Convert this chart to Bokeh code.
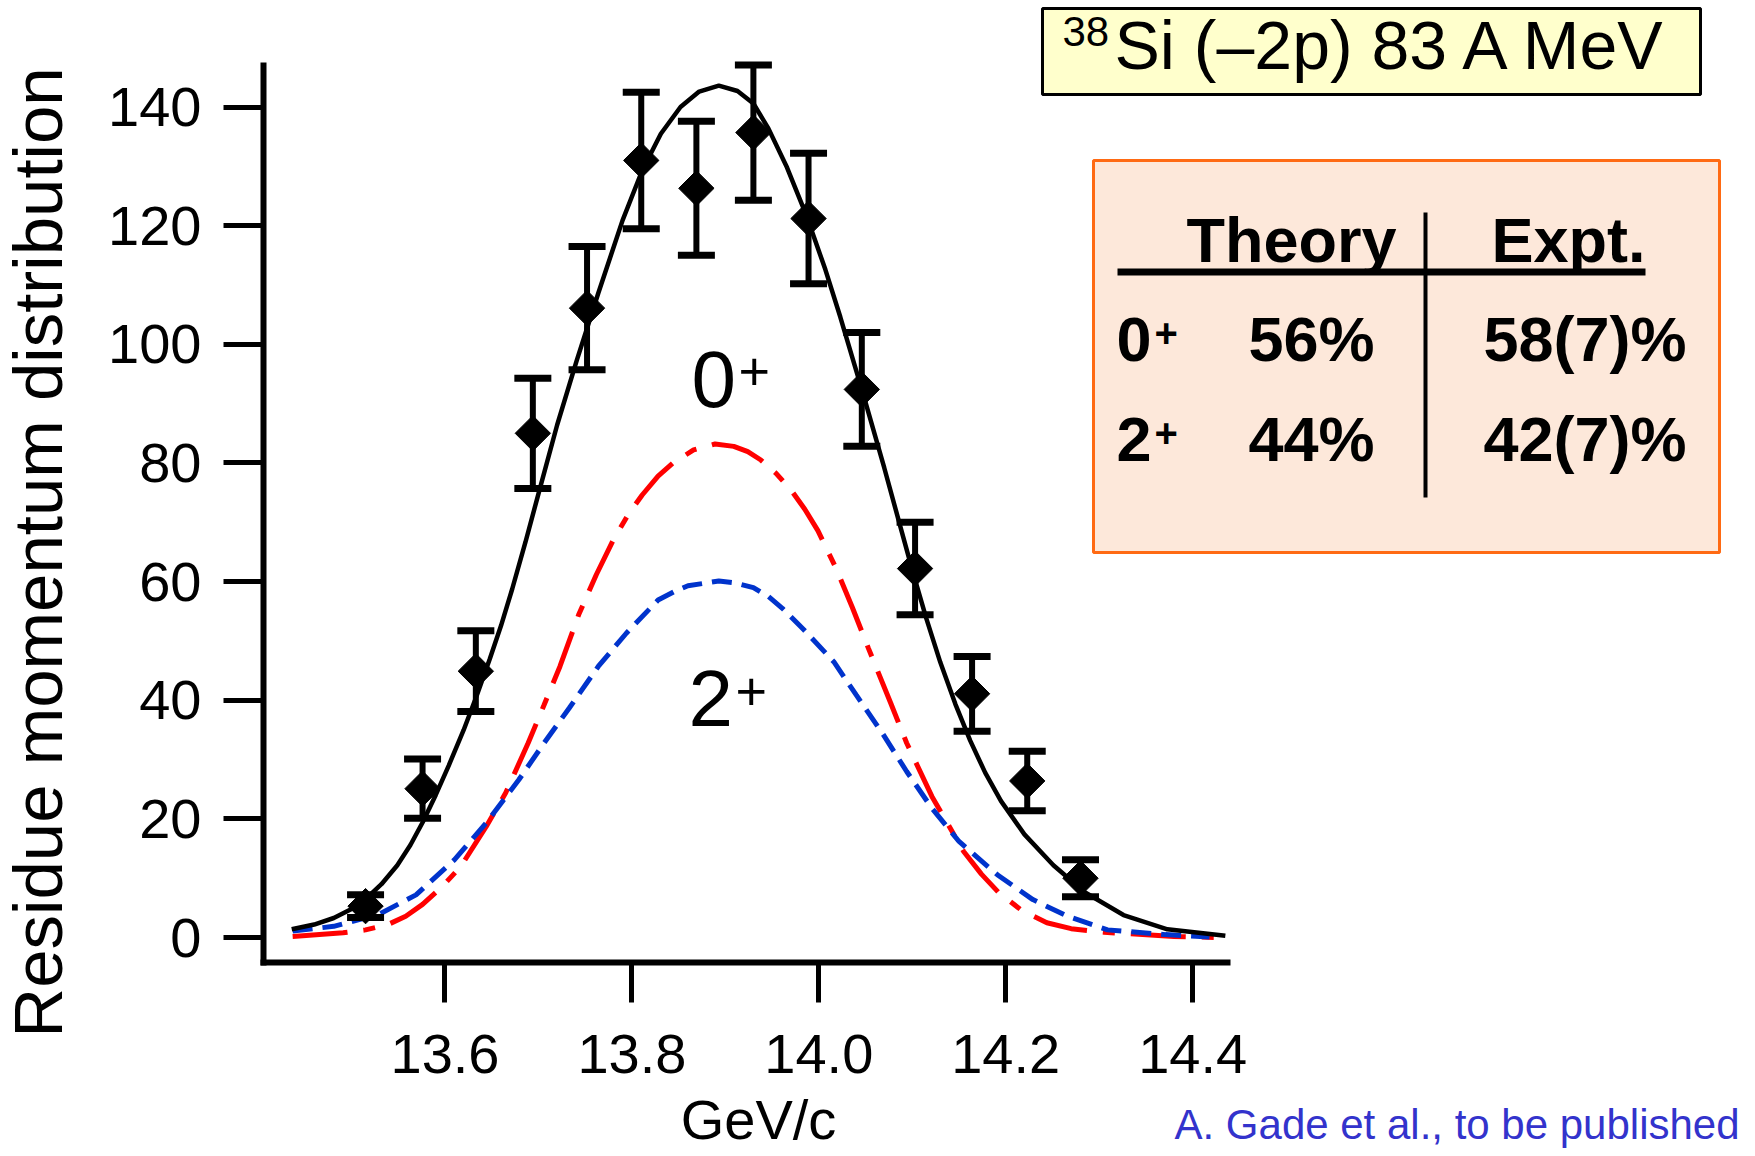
import numpy as np
from bokeh.plotting import figure
from bokeh.models import (Range1d, FixedTicker, PrintfTickFormatter, ColumnDataSource,
                          Whisker, TeeHead, Label, BoxAnnotation, LinearAxis)
from bokeh.embed import file_html
from bokeh.resources import INLINE

# ---------------- data ----------------
data_x = [13.515, 13.576, 13.633, 13.694, 13.752, 13.810, 13.869,
          13.930, 13.989, 14.046, 14.103, 14.164, 14.223, 14.280]
data_y = [5.3, 25.1, 44.9, 85.0, 106.1, 131.0, 126.3,
          135.7, 121.2, 92.4, 62.2, 41.1, 26.4, 10.0]
data_err = [1.9, 5.0, 6.8, 9.3, 10.4, 11.5, 11.3,
            11.4, 11.0, 9.6, 7.8, 6.3, 5.0, 3.1]

total_x = [13.436, 13.460, 13.481, 13.500, 13.515, 13.532, 13.549, 13.563,
           13.576, 13.590, 13.604, 13.620, 13.634, 13.648, 13.660, 13.672,
           13.686, 13.700, 13.720, 13.741, 13.764, 13.790, 13.811, 13.831,
           13.852, 13.872, 13.893, 13.913, 13.930, 13.946, 13.966, 13.987,
           14.007, 14.023, 14.046, 14.070, 14.086, 14.101, 14.115, 14.130,
           14.146, 14.162, 14.178, 14.195, 14.220, 14.251, 14.285, 14.326,
           14.373, 14.435]
total_y = [1.4, 2.2, 3.3, 4.8, 6.5, 9.0, 12.2, 15.6,
           19.4, 24.0, 29.0, 35.0, 40.8, 47.0, 52.6, 58.8,
           66.6, 74.8, 86.4, 97.3, 108.6, 120.9, 129.3, 135.5,
           140.0, 142.6, 143.6, 142.7, 140.6, 136.4, 129.8, 121.6,
           112.6, 104.6, 92.4, 79.2, 70.0, 61.4, 53.8, 46.4,
           39.4, 33.2, 27.8, 23.0, 17.4, 12.2, 7.6, 3.8,
           1.4, 0.3]

zero_x = [13.437, 13.491, 13.515, 13.539, 13.558, 13.576, 13.597, 13.617,
          13.644, 13.665, 13.689, 13.706, 13.723, 13.743, 13.762, 13.780,
          13.796, 13.811, 13.828, 13.844, 13.866, 13.889, 13.909, 13.924,
          13.938, 13.954, 13.970, 13.985, 13.999, 14.018, 14.036, 14.053,
          14.077, 14.094, 14.121, 14.155, 14.174, 14.193, 14.217, 14.244,
          14.270, 14.305, 14.380, 14.431]
zero_y = [0.2, 0.8, 1.3, 2.2, 3.6, 5.6, 8.6, 12.0,
          18.7, 24.4, 32.8, 39.2, 45.7, 54.4, 61.2, 67.0,
          71.3, 74.6, 77.8, 80.0, 82.2, 83.2, 82.8, 81.9,
          80.5, 78.3, 75.5, 72.2, 68.6, 62.4, 55.6, 48.8,
          39.5, 32.8, 23.8, 14.5, 10.7, 7.5, 4.6, 2.5,
          1.5, 0.9, 0.2, 0.0]

two_x = [13.437, 13.481, 13.529, 13.569, 13.610, 13.644, 13.679, 13.706,
         13.733, 13.764, 13.794, 13.828, 13.845, 13.860, 13.893, 13.910,
         13.930, 13.946, 13.961, 13.984, 14.016, 14.040, 14.069, 14.094,
         14.121, 14.150, 14.191, 14.229, 14.266, 14.309, 14.371, 14.418]
two_y = [1.1, 1.9, 3.9, 7.2, 13.1, 19.3, 26.6, 32.8,
         38.7, 45.7, 51.3, 56.9, 58.3, 59.3, 60.1, 59.8,
         59.0, 57.5, 55.5, 51.9, 46.5, 40.9, 34.2, 28.0,
         21.8, 16.2, 10.6, 6.4, 3.6, 1.3, 0.5, 0.1]

x_ticks = [13.6, 13.8, 14.0, 14.2, 14.4]
y_ticks = [0, 20, 40, 60, 80, 100, 120, 140]

table_head = ["Theory", "Expt."]
table_states = ["0", "2"]
table_theory = ["56%", "44%"]
table_expt = ["58(7)%", "42(7)%"]

# ---------------- layout ----------------
W, H = 1755, 1156
FL, FR, FT, FB = 263, 1227, 65, 962          # axes box in canvas pixels
X0, X1 = 13.4058, 14.4373                   # x at FL, FR
Y0, Y1 = -4.2, 147.0                        # y at FB, FT


def fx(px):
    return X0 + (px - FL) * (X1 - X0) / (FR - FL)


def fy(py):
    return Y1 - (py - FT) * (Y1 - Y0) / (FB - FT)


FONT = "Liberation Sans"
BASE_SHIFT = 0.37   # baseline correction (in em) for text labels

p = figure(width=W, height=H,
           x_range=Range1d(fx(0), fx(W)), y_range=Range1d(fy(H), fy(0)),
           x_axis_location=None, y_axis_location=None,
           output_backend="svg", toolbar_location=None, min_border=0,
           background_fill_color="white", border_fill_color="white",
           outline_line_color=None)
for g in p.grid:
    g.visible = False

xaxis = LinearAxis(fixed_location=Y0, bounds=(X0, X1),
                   ticker=FixedTicker(ticks=x_ticks),
                   formatter=PrintfTickFormatter(format="%.1f"))
yaxis = LinearAxis(fixed_location=X0, bounds=(Y0, Y1),
                   ticker=FixedTicker(ticks=y_ticks))
for ax in (xaxis, yaxis):
    ax.axis_line_width = 6
    ax.axis_line_color = "black"
    ax.axis_line_cap = "square"
    ax.major_tick_line_width = 5
    ax.major_tick_line_color = "black"
    ax.major_tick_out = 40
    ax.major_tick_in = 0
    ax.minor_tick_line_color = None
    ax.major_label_text_font = FONT
    ax.major_label_text_color = "black"
    ax.major_label_text_font_size = "56px"
xaxis.major_label_standoff = 32
yaxis.major_label_standoff = 22
p.add_layout(xaxis, "below")
p.add_layout(yaxis, "left")

# curves
p.line(zero_x, zero_y, line_color="#FF0000", line_width=5, line_dash="55 16 12 16")
p.line(two_x, two_y, line_color="#0033CC", line_width=5, line_dash="20 10")
p.line(total_x, total_y, line_color="black", line_width=4.5)

# data with error bars
lower = [y - e for y, e in zip(data_y, data_err)]
upper = [y + e for y, e in zip(data_y, data_err)]
src = ColumnDataSource(dict(x=data_x, y=data_y, lower=lower, upper=upper))
p.add_layout(Whisker(source=src, base="x", lower="lower", upper="upper",
                     line_color="black", line_width=6, level="glyph",
                     upper_head=TeeHead(size=37, line_width=7, line_color="black"),
                     lower_head=TeeHead(size=37, line_width=7, line_color="black")))
p.scatter("x", "y", source=src, marker="square", angle=np.pi / 4, size=25,
          fill_color="black", line_color="black")


def lab(px, py, text, size, bold=False, color="black", align="left", rotated=False):
    shift = BASE_SHIFT * size
    if rotated:
        x, y, ang = fx(px - shift), fy(py), np.pi / 2
    else:
        x, y, ang = fx(px), fy(py - shift), 0.0
    p.add_layout(Label(x=x, y=y, text=text, text_font=FONT,
                       text_font_size=f"{size}px", text_color=color,
                       text_font_style="bold" if bold else "normal",
                       text_align=align, text_baseline="alphabetic", angle=ang))


# title box
p.add_layout(BoxAnnotation(left=fx(1042), right=fx(1700), top=fy(8), bottom=fy(94),
                           fill_color="#FFFFCC", fill_alpha=1.0,
                           line_color="black", line_width=3, line_alpha=1.0))
lab(1062, 47, "38", 42)
lab(1114, 70, "Si (\u20132p) 83 A MeV", 68)

# table box
p.add_layout(BoxAnnotation(left=fx(1093), right=fx(1719), top=fy(160), bottom=fy(552),
                           fill_color="#FDE8DA", fill_alpha=1.0,
                           line_color="#FF6A13", line_width=3, line_alpha=1.0))
p.add_layout(BoxAnnotation(left=fx(1117), right=fx(1645), top=fy(268), bottom=fy(275),
                           fill_color="black", fill_alpha=1.0, line_color=None))
p.add_layout(BoxAnnotation(left=fx(1423), right=fx(1427), top=fy(212), bottom=fy(497),
                           fill_color="black", fill_alpha=1.0, line_color=None))
lab(1186, 263, table_head[0], 63, bold=True)
lab(1491, 263, table_head[1], 63, bold=True)
for i, base in enumerate([362, 462]):
    lab(1116, base, table_states[i], 63, bold=True)
    lab(1154, base - 15, "+", 40, bold=True)
    lab(1248, base, table_theory[i], 63, bold=True)
    lab(1483, base, table_expt[i], 63, bold=True)

# curve labels
lab(691, 409, "0", 80)
lab(738, 391, "+", 54)
lab(688, 728, "2", 80)
lab(735, 711, "+", 54)

# axis titles
lab(64, 552, "Residue momentum distribution", 69, align="center", rotated=True)
lab(758, 1140, "GeV/c", 56, align="center")

# citation
lab(1174, 1140, "A. Gade et al., to be published", 42, color="#3333CC")

open("out.html", "w").write(file_html(p, INLINE))
